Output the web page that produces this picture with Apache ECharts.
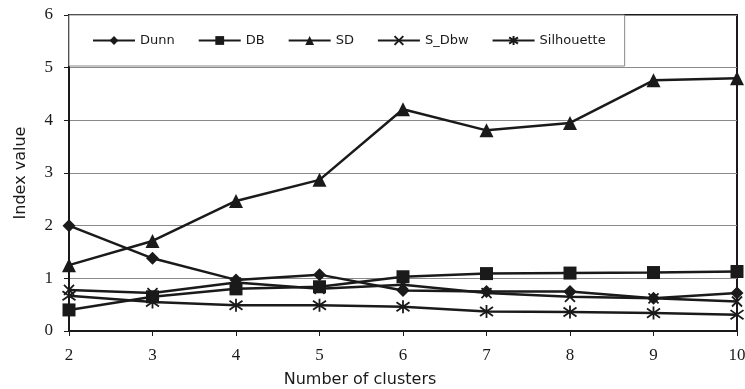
<!DOCTYPE html>
<html>
<head>
<meta charset="utf-8">
<script src="https://cdn.jsdelivr.net/npm/echarts@6/dist/echarts.min.js"></script>
<style>html,body{margin:0;padding:0;background:#fff}#c{width:745px;height:389px}</style>
</head>
<body>
<div id="c"></div>
<script>
var categories = ['2','3','4','5','6','7','8','9','10'];
var dunn = [2.00, 1.38, 0.97, 1.07, 0.77, 0.75, 0.75, 0.62, 0.72];
var db = [0.40, 0.65, 0.80, 0.84, 1.03, 1.09, 1.10, 1.11, 1.13];
var sd = [1.25, 1.71, 2.47, 2.87, 4.21, 3.81, 3.95, 4.76, 4.80];
var sdbw = [0.78, 0.72, 0.92, 0.80, 0.88, 0.72, 0.65, 0.62, 0.56];
var silhouette = [0.67, 0.55, 0.49, 0.49, 0.46, 0.37, 0.36, 0.34, 0.31];
var yTicks = [0, 1, 2, 3, 4, 5, 6];

var INK = '#1a1a1a';
var xPath = 'path://M0,0L10,10M10,0L0,10';
var starPath = 'path://M0,1.5L10,8.5M10,1.5L0,8.5M5,0L5,10';

function mk(name, data, symbol, size, isStroke) {
  return {
    name: name, type: 'line', data: data,
    symbol: symbol, symbolSize: size, showAllSymbol: true,
    clip: false,
    lineStyle: {color: INK, width: 2.5},
    itemStyle: isStroke ? {color: 'rgba(0,0,0,0)', borderColor: INK, borderWidth: 1.8} : {color: INK, borderColor: INK, borderWidth: 0},
    emphasis: {disabled: true}
  };
}

var chart = echarts.init(document.getElementById('c'), null, {renderer: 'canvas'});
chart.setOption({
  animation: false,
  backgroundColor: '#fff',
  grid: {left: 69, right: 8, top: 15, bottom: 58, show: true, borderColor: INK, borderWidth: 2, backgroundColor: 'transparent', containLabel: false, outerBoundsMode: 'none'},
  legend: {
    left: 69, top: 15, z: 10,
    padding: [19, 19, 19, 23],
    itemGap: 23, itemWidth: 42, itemHeight: 11,
    backgroundColor: '#fff', borderColor: '#888', borderWidth: 1,
    textStyle: {fontFamily: 'DejaVu Sans', fontSize: 13, color: INK},
    data: ['Dunn','DB','SD','S_Dbw','Silhouette']
  },
  xAxis: {
    type: 'category', data: categories, boundaryGap: false,
    name: 'Number of clusters', nameLocation: 'middle', nameGap: 41,
    nameTextStyle: {fontFamily: 'DejaVu Sans', fontSize: 16, color: INK, padding: [0, 86, 0, 0]},
    axisLine: {lineStyle: {color: INK, width: 2}},
    axisTick: {show: true, inside: false, length: 5, alignWithLabel: true, lineStyle: {color: INK, width: 1}},
    axisLabel: {fontFamily: 'Liberation Serif', fontSize: 17, color: INK, margin: 16},
    splitLine: {show: false}
  },
  yAxis: {
    type: 'value', min: yTicks[0], max: yTicks[yTicks.length-1], interval: 1,
    name: 'Index value', nameLocation: 'middle', nameGap: 40, nameRotate: 90,
    nameTextStyle: {fontFamily: 'DejaVu Sans', fontSize: 16, color: INK},
    axisLine: {show: true, lineStyle: {color: INK, width: 2}},
    axisTick: {show: true, inside: false, length: 5, lineStyle: {color: INK, width: 1}},
    axisLabel: {fontFamily: 'Liberation Serif', fontSize: 17, color: INK, margin: 16},
    splitLine: {show: true, lineStyle: {color: '#8a8a8a', width: 1}}
  },
  series: [
    mk('Dunn', dunn, 'diamond', 13, false),
    mk('DB', db, 'rect', 13, false),
    mk('SD', sd, 'triangle', 14, false),
    mk('S_Dbw', sdbw, xPath, 10, true),
    mk('Silhouette', silhouette, starPath, 13, true)
  ]
});
</script>
</body>
</html>
